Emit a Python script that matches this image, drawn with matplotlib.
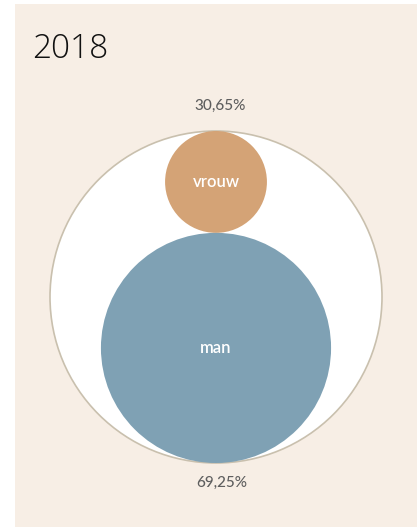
import matplotlib
matplotlib.use("Agg")
import matplotlib.pyplot as plt
from matplotlib.patches import Circle, Rectangle

TITLE = "2018"
LABELS = ["vrouw", "man"]
VALUES = [30.65, 69.25]
COLORS = ["#D4A376", "#7FA1B4"]

BG = "#F7EEE5"
W, H = 417, 527

plt.rcParams['font.family'] = ['Lato', 'DejaVu Sans']

fig = plt.figure(figsize=(W / 100, H / 100), dpi=100)
fig.patch.set_facecolor("white")

# beige panel in a background axes
bg = fig.add_axes([0, 0, 1, 1], zorder=-1)
bg.axis("off")
bg.add_patch(Rectangle((15 / W, 0), 1 - 15 / W, 1 - 4 / H,
                       transform=bg.transAxes, facecolor=BG,
                       edgecolor="none"))

fig.text(32 / W, 1 - 58 / H, TITLE, fontsize=24, color="#111111",
         family=["Open Sans", "DejaVu Sans"], fontweight="light",
         ha="left", va="baseline")

# circle radii proportional to value, outer circle = sum
r_top = VALUES[0] / 2
r_bot = VALUES[1] / 2
R = r_top + r_bot

# axes placed so outer circle spans pixels x 50..382, y 131..463
ax = fig.add_axes([50 / W, (H - 463) / H, 332 / W, 332 / H])
ax.set_xlim(-R, R)
ax.set_ylim(-R, R)
ax.set_aspect("equal")
ax.axis("off")

ax.add_patch(Circle((0, 0), R, facecolor="white", edgecolor="#C9C0AE",
                    linewidth=1.2, clip_on=False))
ax.add_patch(Circle((0, R - r_top), r_top, facecolor=COLORS[0],
                    edgecolor="none", clip_on=False))
ax.add_patch(Circle((0, -R + r_bot), r_bot, facecolor=COLORS[1],
                    edgecolor="none", clip_on=False))

ax.text(0, R - r_top, LABELS[0], color="white", fontsize=12,
        fontweight="semibold", ha="center", va="center")
ax.text(0, -R + r_bot, LABELS[1], color="white", fontsize=12,
        fontweight="semibold", ha="center", va="center")

fmt = lambda v: f"{v:.2f}".replace(".", ",") + "%"
ax.text(1.2, R + 5.6, fmt(VALUES[0]), color="#5e5e5e", fontsize=11,
        fontweight="medium", ha="center", va="bottom", clip_on=False)
ax.text(1.8, -R - 3.8, fmt(VALUES[1]), color="#5e5e5e", fontsize=11,
        fontweight="medium", ha="center", va="top", clip_on=False)

fig.savefig("out.png", dpi=100, facecolor=fig.get_facecolor())
